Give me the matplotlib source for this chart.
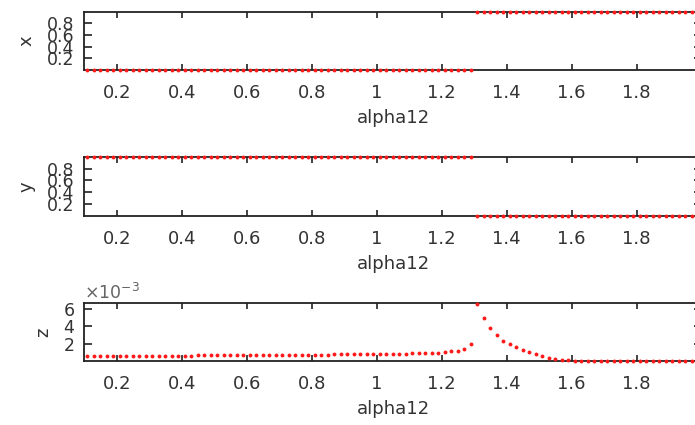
import numpy as np
import matplotlib
matplotlib.use("Agg")
import matplotlib.pyplot as plt

# sweep of alpha12 (step 0.02)
alpha12 = np.linspace(0.11, 1.99, 95)

# x state: 0 below the switch, 1 above it
x_vals = [0, 0, 0, 0, 0, 0, 0, 0, 0, 0,
          0, 0, 0, 0, 0, 0, 0, 0, 0, 0,
          0, 0, 0, 0, 0, 0, 0, 0, 0, 0,
          0, 0, 0, 0, 0, 0, 0, 0, 0, 0,
          0, 0, 0, 0, 0, 0, 0, 0, 0, 0,
          0, 0, 0, 0, 0, 0, 0, 0, 0, 0,
          1, 1, 1, 1, 1, 1, 1, 1, 1, 1,
          1, 1, 1, 1, 1, 1, 1, 1, 1, 1,
          1, 1, 1, 1, 1, 1, 1, 1, 1, 1,
          1, 1, 1, 1, 1]

# y state: the opposite of x
y_vals = [1, 1, 1, 1, 1, 1, 1, 1, 1, 1,
          1, 1, 1, 1, 1, 1, 1, 1, 1, 1,
          1, 1, 1, 1, 1, 1, 1, 1, 1, 1,
          1, 1, 1, 1, 1, 1, 1, 1, 1, 1,
          1, 1, 1, 1, 1, 1, 1, 1, 1, 1,
          1, 1, 1, 1, 1, 1, 1, 1, 1, 1,
          0, 0, 0, 0, 0, 0, 0, 0, 0, 0,
          0, 0, 0, 0, 0, 0, 0, 0, 0, 0,
          0, 0, 0, 0, 0, 0, 0, 0, 0, 0,
          0, 0, 0, 0, 0]

# z in units of 1e-3
z_vals = [0.55, 0.56, 0.56, 0.57, 0.57, 0.58, 0.58, 0.59, 0.59, 0.60,
          0.60, 0.61, 0.61, 0.62, 0.62, 0.63, 0.63, 0.64, 0.64, 0.65,
          0.65, 0.66, 0.66, 0.67, 0.67, 0.68, 0.68, 0.69, 0.69, 0.70,
          0.70, 0.71, 0.71, 0.72, 0.72, 0.73, 0.74, 0.74, 0.75, 0.76,
          0.76, 0.77, 0.78, 0.78, 0.79, 0.80, 0.81, 0.82, 0.83, 0.84,
          0.86, 0.88, 0.90, 0.93, 0.97, 1.02, 1.09, 1.20, 1.40, 1.95,
          6.55, 4.94, 3.84, 2.98, 2.35, 1.95, 1.58, 1.29, 1.01, 0.78,
          0.56, 0.40, 0.26, 0.15, 0.08, 0.04, 0.02, 0.01, 0.008, 0.006,
          0.005, 0.004, 0.003, 0.003, 0.002, 0.002, 0.002, 0.001, 0.001, 0.001,
          0.001, 0.0, 0.0, 0.0, 0.0]

xticks = [0.2, 0.4, 0.6, 0.8, 1.0, 1.2, 1.4, 1.6, 1.8]
xticklabels = ["0.2", "0.4", "0.6", "0.8", "1", "1.2", "1.4", "1.6", "1.8"]

txt = "#333333"
plt.rcParams["font.family"] = "DejaVu Sans"

fig = plt.figure(figsize=(6.95, 4.25), dpi=100)

W, H = 695.0, 425.0
left = 84.2 / W
width = (701.7 - 84.2) / W
# (top, bottom) of each panel in pixels
boxes = [(11.5, 70.0), (156.7, 216.0), (303.0, 361.0)]

panels = [
    (np.array(x_vals, float), "x", [0.2, 0.4, 0.6, 0.8], ["0.2", "0.4", "0.6", "0.8"], (0, 1)),
    (np.array(y_vals, float), "y", [0.2, 0.4, 0.6, 0.8], ["0.2", "0.4", "0.6", "0.8"], (0, 1)),
    (np.array(z_vals) * 1e-3, "z", [2e-3, 4e-3, 6e-3], ["2", "4", "6"], (0, 6.65e-3)),
]

for (top, bot), (vals, name, yt, ytl, ylim) in zip(boxes, panels):
    ax = fig.add_axes([left, 1 - bot / H, width, (bot - top) / H])
    ax.plot(alpha12, vals, linestyle="none", marker="o", ms=2.8, mew=0,
            color="#ff1a1a", clip_on=False, zorder=5)
    ax.set_xlim(0.1, 2.0)
    ax.set_ylim(*ylim)
    ax.set_xticks(xticks)
    ax.set_xticklabels(xticklabels)
    ax.set_yticks(yt)
    ax.set_yticklabels(ytl)
    ax.tick_params(axis="x", direction="in", length=4, width=1.2, top=True,
                   pad=10, labelsize=13, colors="#222222", labelcolor=txt)
    ax.tick_params(axis="y", direction="in", length=6, width=1.2, right=True,
                   pad=7, labelsize=12.5, colors="#222222", labelcolor=txt)
    for sp in ax.spines.values():
        sp.set_linewidth(1.3)
        sp.set_color("#222222")
    ax.set_xlabel("alpha12", fontsize=13, color=txt, labelpad=5)
    ax.set_ylabel(name, fontsize=13, color=txt, labelpad=8)
    if name == "z":
        ax.text(0.0, 1.0, r"$\times10^{-3}$", transform=ax.transAxes,
                fontsize=12.5, color="#666666", ha="left", va="bottom")

fig.savefig("out.png", dpi=100)
